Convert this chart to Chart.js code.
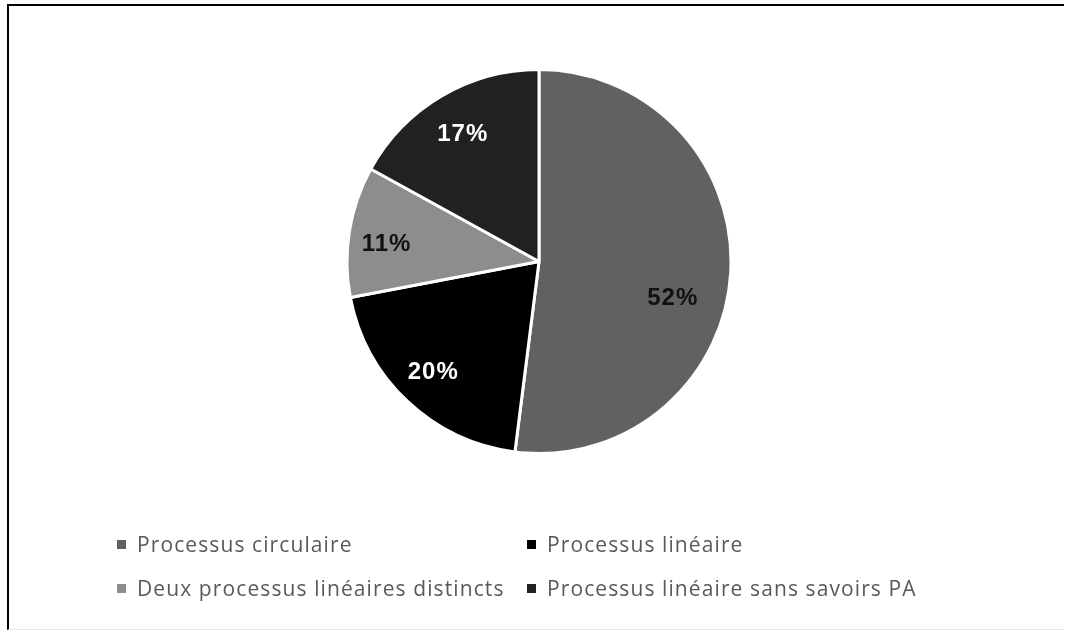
<!DOCTYPE html>
<html>
<head>
<meta charset="utf-8">
<script src="https://cdn.jsdelivr.net/npm/chart.js@4.4.1/dist/chart.umd.min.js"></script>
<style>
  body { margin: 0; background: #fff; }
  #wrap { position: relative; width: 1065px; height: 631px; overflow: hidden; }
  #frame { position: absolute; left: 7px; top: 4px; right: 1px; bottom: 1px;
    border-top: 2px solid #000; border-left: 2px solid #000; border-bottom: 1px solid #e6e6e6; }
  #legend { position: absolute; left: 117px; top: 530px; display: grid;
    grid-template-columns: 410px auto; row-gap: 16px;
    font-family: "Open Sans", sans-serif; font-size: 21px; letter-spacing: 1.1px; color: #595959; }
  .item { display: flex; align-items: center; height: 28px; }
  .box { width: 9px; height: 9px; margin-right: 11px; }
</style>
</head>
<body>
<div id="wrap">
  <canvas id="graficoPie" width="1065" height="631"></canvas>
  <div id="frame"></div>
  <div id="legend"></div>
</div>
<script>
const labels = ["Processus circulaire", "Processus linéaire", "Deux processus linéaires distincts", "Processus linéaire sans savoirs PA"]
const valores = [52, 20, 11, 17]
const cores = ["#616161", "#000000", "#8d8d8d", "#212121"]
const coresTexto = ["#111111", "#ffffff", "#111111", "#ffffff"]

// posicao dos rotulos: [fracao do raio, desvio do angulo em graus]
const posRotulo = [[0.72, 11], [0.79, 1], [0.80, -2], [0.78, 0]]

const rotulos = {
  id: "rotulos",
  afterDatasetsDraw(chart) {
    const ctx = chart.ctx
    const meta = chart.getDatasetMeta(0)
    ctx.save()
    ctx.font = "bold 24px 'Liberation Sans', Arial, sans-serif"
    ctx.letterSpacing = "1px"
    ctx.textAlign = "center"
    ctx.textBaseline = "middle"
    meta.data.forEach((arc, i) => {
      const p = arc.getProps(["x", "y", "startAngle", "endAngle", "outerRadius"], true)
      const ang = (p.startAngle + p.endAngle) / 2 + posRotulo[i][1] * Math.PI / 180
      const r = p.outerRadius * posRotulo[i][0]
      ctx.fillStyle = coresTexto[i]
      ctx.fillText(valores[i] + "%", p.x + Math.cos(ang) * r, p.y + Math.sin(ang) * r + 2)
    })
    ctx.restore()
  }
}

new Chart(document.getElementById("graficoPie"), {
  type: "pie",
  data: {
    labels: labels,
    datasets: [{
      data: valores,
      backgroundColor: cores,
      borderColor: "#ffffff",
      borderWidth: 3
    }]
  },
  options: {
    responsive: false,
    animation: false,
    layout: { padding: { left: 100, right: 87, top: 68, bottom: 176 } },
    plugins: {
      legend: { display: false },
      tooltip: { enabled: false }
    }
  },
  plugins: [rotulos]
})

const legendEl = document.getElementById("legend")
labels.forEach((l, i) => {
  legendEl.innerHTML += `<div class="item"><span class="box" style="background:${cores[i]}"></span>${l}</div>`
})
</script>
</body>
</html>
